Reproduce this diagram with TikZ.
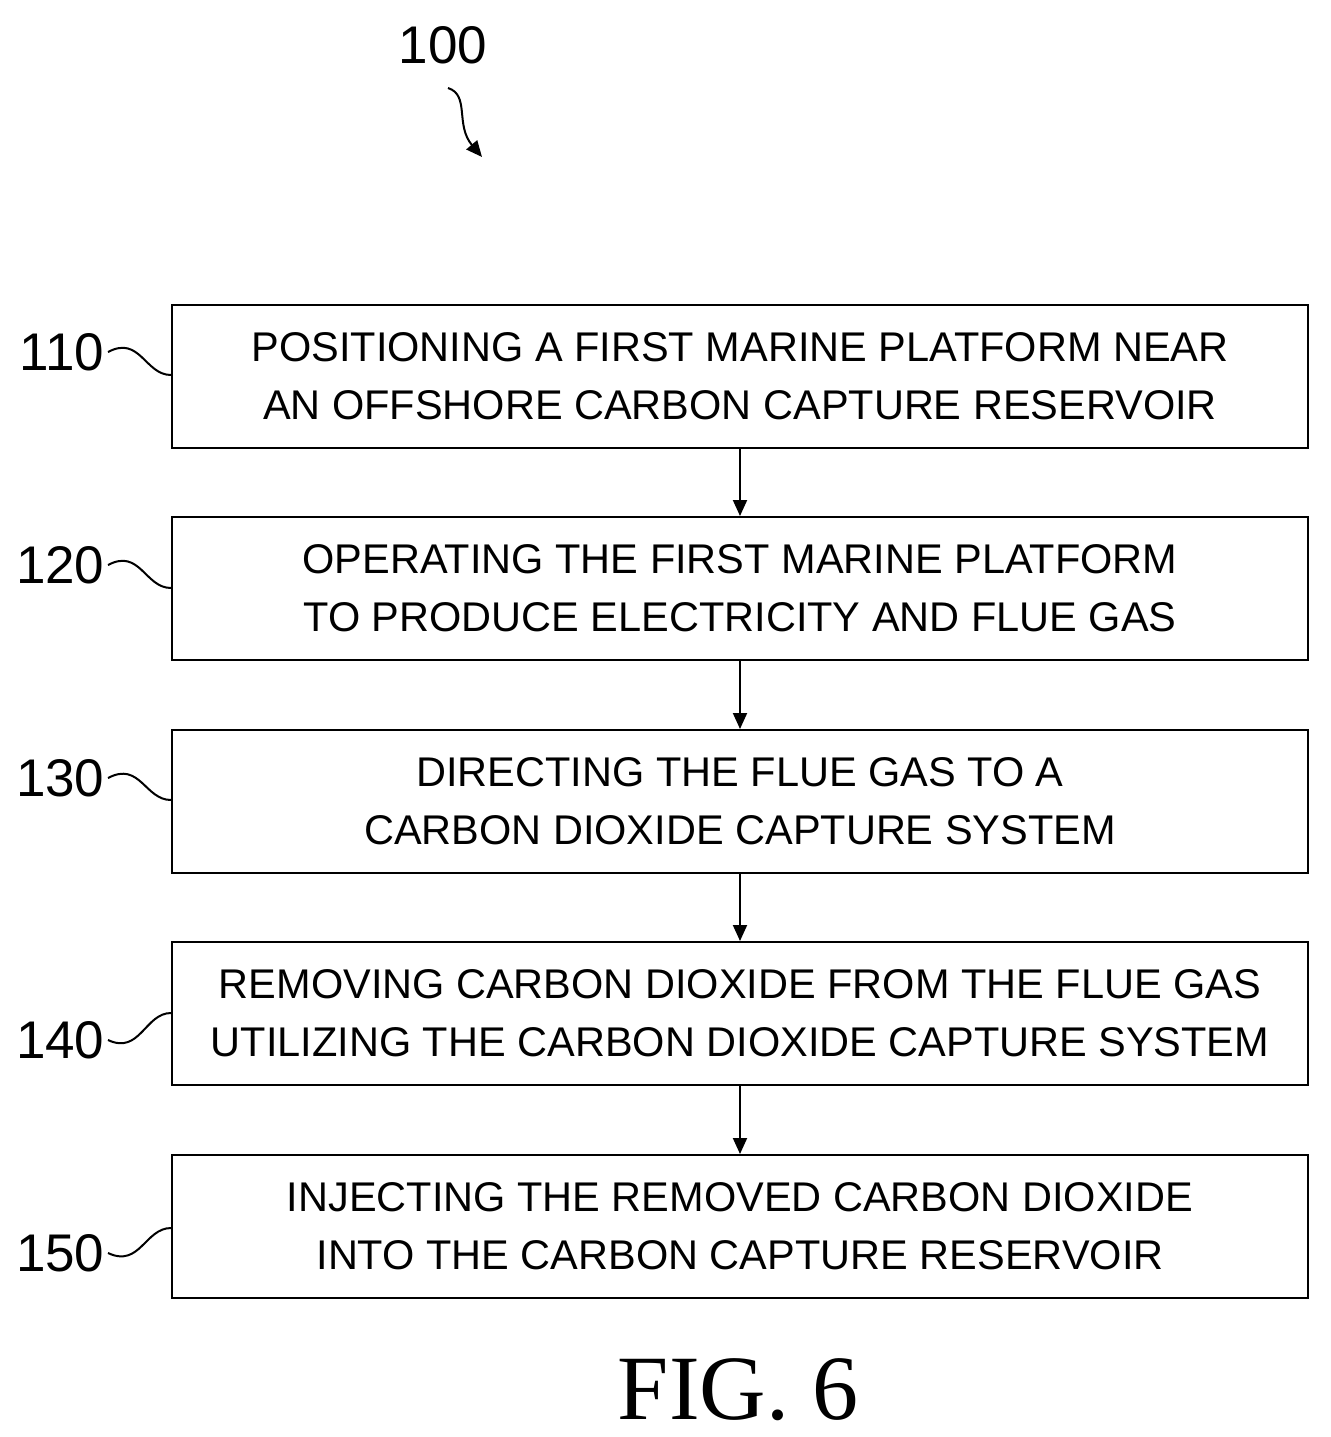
\documentclass[tikz,border=0pt]{standalone}
\usepackage{fontspec}
\setmainfont{Liberation Sans}
\newfontfamily\serif{Liberation Serif}
\usetikzlibrary{arrows.meta}
\begin{document}
\begin{tikzpicture}[x=1pt,y=-1pt,
  box/.style={draw,line width=2pt,minimum width=1136pt,minimum height=143pt,inner sep=0pt,align=center,font=\fontsize{41.5}{58}\selectfont},
  lab/.style={font=\fontsize{53}{53}\selectfont,anchor=east},
  arr/.style={line width=2pt,-{Triangle[length=16pt,width=14pt]}},
  sq/.style={line width=2pt}]
\useasboundingbox (0,0) rectangle (1330,1437);
\node[box] (b1) at (740,376.5) {POSITIONING A FIRST MARINE PLATFORM NEAR\\AN OFFSHORE CARBON CAPTURE RESERVOIR};
\node[box] (b2) at (740,588.5) {OPERATING THE FIRST MARINE PLATFORM\\TO PRODUCE ELECTRICITY AND FLUE GAS};
\node[box] (b3) at (740,801.5) {DIRECTING THE FLUE GAS TO A\\CARBON DIOXIDE CAPTURE SYSTEM};
\node[box] (b4) at (740,1013.5) {REMOVING CARBON DIOXIDE FROM THE FLUE GAS\\UTILIZING THE CARBON DIOXIDE CAPTURE SYSTEM};
\node[box] (b5) at (740,1226.5) {INJECTING THE REMOVED CARBON DIOXIDE\\INTO THE CARBON CAPTURE RESERVOIR};
\draw[arr] (b1) -- (b2);
\draw[arr] (b2) -- (b3);
\draw[arr] (b3) -- (b4);
\draw[arr] (b4) -- (b5);
\node[lab] (l110) at (108,352) {110};
\node[lab] (l120) at (108,565) {120};
\node[lab] (l130) at (108,778) {130};
\node[lab] (l140) at (108,1040) {140};
\node[lab] (l150) at (108,1253) {150};
\draw[sq] (l110.east) .. controls (140,335) and (145,375) .. (b1.west |- 0,375);
\draw[sq] (l120.east) .. controls (140,548) and (145,588) .. (b2.west |- 0,588);
\draw[sq] (l130.east) .. controls (140,761) and (145,800) .. (b3.west |- 0,800);
\draw[sq] (l140.east) .. controls (140,1055) and (145,1013) .. (b4.west |- 0,1013);
\draw[sq] (l150.east) .. controls (140,1268) and (145,1228) .. (b5.west |- 0,1228);
\node[font=\fontsize{53}{53}\selectfont] (l100) at (443,45) {100};
\coordinate (t100) at (482,157);
\draw[arr] (448,88) .. controls (470,95) and (455,125) .. (t100);
\node[font=\serif\fontsize{92}{92}\selectfont] (fig) at (738,1390) {FIG. 6};
\end{tikzpicture}
\end{document}
